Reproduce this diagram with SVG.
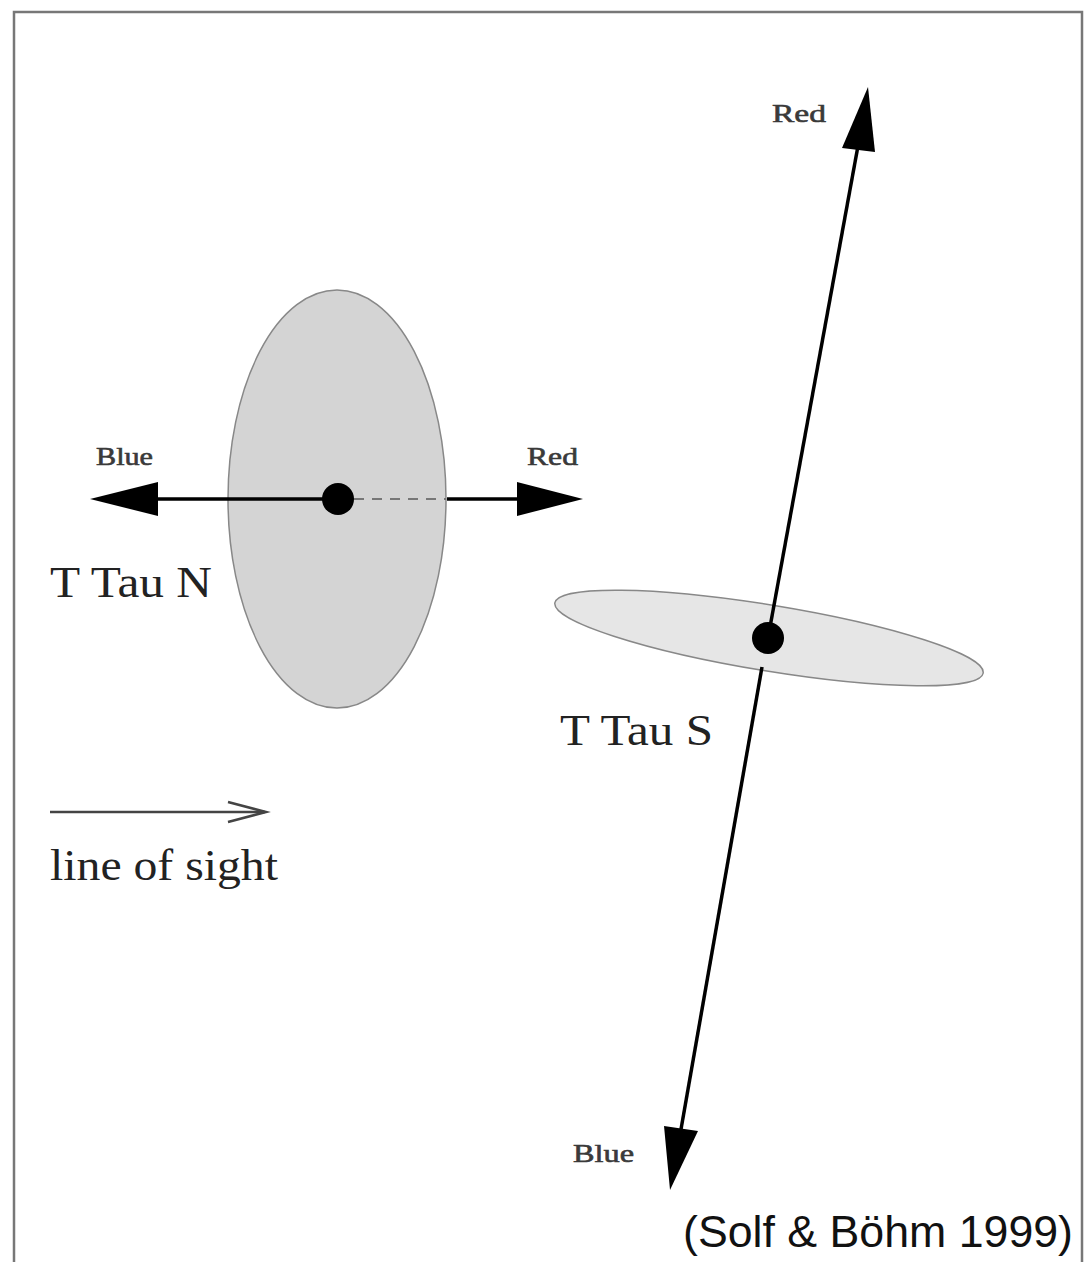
<svg xmlns="http://www.w3.org/2000/svg" width="1085" height="1262" viewBox="0 0 1085 1262">
<defs>
<style>
.lbl{font-family:"Liberation Serif","Times New Roman",serif;fill:#222}
.small{font-family:"Liberation Serif","Times New Roman",serif;fill:#3a3a3a;font-size:25px;stroke:#3a3a3a;stroke-width:0.6}
.axis{stroke:#000;stroke-width:3.5;fill:none}
.head{fill:#000}
.dot{fill:#000}
</style>
</defs>
<rect width="1085" height="1262" fill="#fff"/>
<path d="M14 1262 V12 H1082 V1262" fill="none" stroke="#777" stroke-width="2.5"/>

<g id="ttau-n">
<ellipse cx="337" cy="499" rx="109" ry="209" fill="#d4d4d4" stroke="#888" stroke-width="1.5"/>
<circle class="dot" cx="338" cy="499" r="16"/>
<text class="lbl" x="50" y="597" font-size="45" textLength="162" lengthAdjust="spacingAndGlyphs">T Tau N</text>
</g>

<g id="ttau-s">
<ellipse cx="769" cy="638" rx="217" ry="33" transform="rotate(9.3 769 638)" fill="#e6e6e6" stroke="#888" stroke-width="1.5"/>
<circle class="dot" cx="768" cy="638" r="16"/>
<text class="lbl" x="560" y="745" font-size="45" textLength="153" lengthAdjust="spacingAndGlyphs">T Tau S</text>
</g>

<g id="connectors">
<line class="axis" x1="155" y1="499" x2="330" y2="499"/>
<line x1="354" y1="499" x2="446" y2="499" stroke="#777" stroke-width="2" stroke-dasharray="10,8"/>
<line class="axis" x1="447" y1="499" x2="520" y2="499"/>
<polygon class="head" points="90,499 158,482 158,516"/>
<polygon class="head" points="583,499 517,482 517,516"/>
<line class="axis" x1="860" y1="135" x2="768" y2="638"/>
<line class="axis" x1="762" y1="667" x2="680" y2="1135"/>
<polygon class="head" points="868,87 842,148 875,152"/>
<polygon class="head" points="670,1190 664,1126 698,1131"/>
<line x1="50" y1="812" x2="265" y2="812" stroke="#444" stroke-width="2.5"/>
<polyline points="228,802 266,812 228,822" fill="none" stroke="#444" stroke-width="2.5"/>
</g>

<g id="labels">
<text class="small" x="96" y="465" textLength="57" lengthAdjust="spacingAndGlyphs">Blue</text>
<text class="small" x="527" y="465" textLength="51" lengthAdjust="spacingAndGlyphs">Red</text>
<text class="small" x="772" y="122" textLength="54" lengthAdjust="spacingAndGlyphs">Red</text>
<text class="small" x="573" y="1162" textLength="61" lengthAdjust="spacingAndGlyphs">Blue</text>
<text class="lbl" x="50" y="880" font-size="45" textLength="228" lengthAdjust="spacingAndGlyphs">line of sight</text>
<text x="683" y="1247" font-family="'Liberation Sans',Arial,sans-serif" font-size="45" fill="#111" textLength="390" lengthAdjust="spacingAndGlyphs">(Solf &amp; Böhm 1999)</text>
</g>
</svg>
